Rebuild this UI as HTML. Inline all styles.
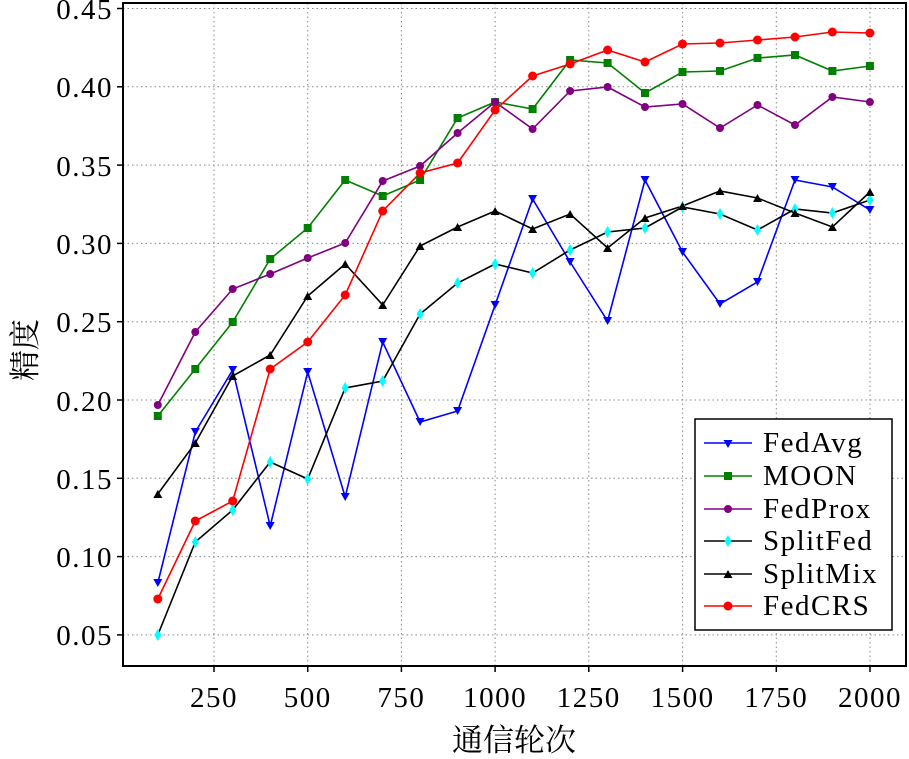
<!DOCTYPE html>
<html><head><meta charset="utf-8"><style>body{margin:0;background:#fff}svg{display:block}</style></head><body>
<svg width="909" height="759" xmlns="http://www.w3.org/2000/svg" font-family="'Liberation Serif','Noto Serif CJK SC',serif">
<defs>
<path id="tri" d="M-4.5,-4 L4.5,-4 L0,4 Z"/>
<path id="utri" d="M-4.5,4 L4.5,4 L0,-4 Z"/>
<path id="dia" d="M0,-6 L3.5,0 L0,6 L-3.5,0 Z"/>
<rect id="sq" x="-4" y="-4" width="8" height="8"/>
<circle id="c" r="4"/>
<circle id="c2" r="4.5"/>
</defs>
<g stroke="#888" stroke-width="1" stroke-dasharray="1.5,3">
<line x1="123" x2="906" y1="8.5" y2="8.5"/><line x1="123" x2="906" y1="86.8" y2="86.8"/><line x1="123" x2="906" y1="165.1" y2="165.1"/><line x1="123" x2="906" y1="243.4" y2="243.4"/><line x1="123" x2="906" y1="321.7" y2="321.7"/><line x1="123" x2="906" y1="400" y2="400"/><line x1="123" x2="906" y1="478.3" y2="478.3"/><line x1="123" x2="906" y1="556.6" y2="556.6"/><line x1="123" x2="906" y1="634.9" y2="634.9"/>
<line y1="3" y2="666" x1="214" x2="214"/><line y1="3" y2="666" x1="307.7" x2="307.7"/><line y1="3" y2="666" x1="401.4" x2="401.4"/><line y1="3" y2="666" x1="495.1" x2="495.1"/><line y1="3" y2="666" x1="588.8" x2="588.8"/><line y1="3" y2="666" x1="682.6" x2="682.6"/><line y1="3" y2="666" x1="776.3" x2="776.3"/><line y1="3" y2="666" x1="870" x2="870"/>
</g>
<rect x="123" y="3" width="783" height="663" fill="none" stroke="#000" stroke-width="2"/>
<g stroke="#000" stroke-width="1.5">
<line x1="117" x2="123" y1="8.5" y2="8.5"/><line x1="117" x2="123" y1="86.8" y2="86.8"/><line x1="117" x2="123" y1="165.1" y2="165.1"/><line x1="117" x2="123" y1="243.4" y2="243.4"/><line x1="117" x2="123" y1="321.7" y2="321.7"/><line x1="117" x2="123" y1="400" y2="400"/><line x1="117" x2="123" y1="478.3" y2="478.3"/><line x1="117" x2="123" y1="556.6" y2="556.6"/><line x1="117" x2="123" y1="634.9" y2="634.9"/>
<line y1="666" y2="672" x1="214" x2="214"/><line y1="666" y2="672" x1="307.7" x2="307.7"/><line y1="666" y2="672" x1="401.4" x2="401.4"/><line y1="666" y2="672" x1="495.1" x2="495.1"/><line y1="666" y2="672" x1="588.8" x2="588.8"/><line y1="666" y2="672" x1="682.6" x2="682.6"/><line y1="666" y2="672" x1="776.3" x2="776.3"/><line y1="666" y2="672" x1="870" x2="870"/>
</g>
<g font-size="29" letter-spacing="1.5" text-anchor="end" fill="#000">
<text x="113" y="19">0.45</text><text x="113" y="97">0.40</text><text x="113" y="176">0.35</text><text x="113" y="254">0.30</text><text x="113" y="332">0.25</text><text x="113" y="411">0.20</text><text x="113" y="489">0.15</text><text x="113" y="567">0.10</text><text x="113" y="645">0.05</text>
</g>
<g font-size="29" letter-spacing="1.5" text-anchor="middle" fill="#000">
<text x="214" y="707">250</text><text x="307.7" y="707">500</text><text x="401.4" y="707">750</text><text x="495.1" y="707">1000</text><text x="588.8" y="707">1250</text><text x="682.6" y="707">1500</text><text x="776.3" y="707">1750</text><text x="870" y="707">2000</text>
</g>
<text x="514" y="751" font-size="31" text-anchor="middle">通信轮次</text>
<text transform="translate(36,350) rotate(-90)" font-size="31" text-anchor="middle">精度</text>

<g fill="none" stroke-width="1.6">
<polyline stroke="#0000ff" points="157.8,583 195.3,432 232.7,370 270.2,526 307.7,372 345.2,497 382.7,342 420.1,422 457.6,411 495.1,305 532.6,199 570.1,262 607.6,321 645,180 682.5,252 720,304 757.5,282 795,180 832.4,187 869.9,210"/>
<polyline stroke="#008000" points="157.8,416 195.3,369 232.7,322 270.2,259 307.7,228 345.2,180 382.7,196 420.1,180 457.6,118 495.1,102 532.6,109 570.1,60 607.6,63 645,93 682.5,72 720,71 757.5,58 795,55 832.4,71 869.9,66"/>
<polyline stroke="#800080" points="157.8,405 195.3,332 232.7,289 270.2,274 307.7,258 345.2,243 382.7,181 420.1,166 457.6,133 495.1,102 532.6,129 570.1,91 607.6,87 645,107 682.5,104 720,128 757.5,105 795,125 832.4,97 869.9,102"/>
<polyline stroke="#000" points="157.8,635 195.3,542 232.7,510 270.2,462 307.7,479 345.2,388 382.7,381 420.1,314 457.6,283 495.1,264 532.6,273 570.1,250 607.6,232 645,228 682.5,207 720,214 757.5,230 795,209 832.4,213 869.9,200"/>
<polyline stroke="#000" points="157.8,494 195.3,443 232.7,376 270.2,355 307.7,296 345.2,264 382.7,305 420.1,246 457.6,227 495.1,211 532.6,229 570.1,214 607.6,248 645,218 682.5,206 720,191 757.5,198 795,213 832.4,227 869.9,192"/>
<polyline stroke="#ff0000" points="157.8,599 195.3,521 232.7,501 270.2,369 307.7,342 345.2,295 382.7,211 420.1,173 457.6,163 495.1,110 532.6,76 570.1,64 607.6,50 645,62 682.5,44 720,43 757.5,40 795,37 832.4,32 869.9,33"/>
</g>
<g fill="#0000ff">
<use href="#tri" x="157.8" y="583"/><use href="#tri" x="195.3" y="432"/><use href="#tri" x="232.7" y="370"/><use href="#tri" x="270.2" y="526"/><use href="#tri" x="307.7" y="372"/><use href="#tri" x="345.2" y="497"/><use href="#tri" x="382.7" y="342"/><use href="#tri" x="420.1" y="422"/><use href="#tri" x="457.6" y="411"/><use href="#tri" x="495.1" y="305"/><use href="#tri" x="532.6" y="199"/><use href="#tri" x="570.1" y="262"/><use href="#tri" x="607.6" y="321"/><use href="#tri" x="645" y="180"/><use href="#tri" x="682.5" y="252"/><use href="#tri" x="720" y="304"/><use href="#tri" x="757.5" y="282"/><use href="#tri" x="795" y="180"/><use href="#tri" x="832.4" y="187"/><use href="#tri" x="869.9" y="210"/>
</g>
<g fill="#008000">
<use href="#sq" x="157.8" y="416"/><use href="#sq" x="195.3" y="369"/><use href="#sq" x="232.7" y="322"/><use href="#sq" x="270.2" y="259"/><use href="#sq" x="307.7" y="228"/><use href="#sq" x="345.2" y="180"/><use href="#sq" x="382.7" y="196"/><use href="#sq" x="420.1" y="180"/><use href="#sq" x="457.6" y="118"/><use href="#sq" x="495.1" y="102"/><use href="#sq" x="532.6" y="109"/><use href="#sq" x="570.1" y="60"/><use href="#sq" x="607.6" y="63"/><use href="#sq" x="645" y="93"/><use href="#sq" x="682.5" y="72"/><use href="#sq" x="720" y="71"/><use href="#sq" x="757.5" y="58"/><use href="#sq" x="795" y="55"/><use href="#sq" x="832.4" y="71"/><use href="#sq" x="869.9" y="66"/>
</g>
<g fill="#800080">
<use href="#c" x="157.8" y="405"/><use href="#c" x="195.3" y="332"/><use href="#c" x="232.7" y="289"/><use href="#c" x="270.2" y="274"/><use href="#c" x="307.7" y="258"/><use href="#c" x="345.2" y="243"/><use href="#c" x="382.7" y="181"/><use href="#c" x="420.1" y="166"/><use href="#c" x="457.6" y="133"/><use href="#c" x="495.1" y="102"/><use href="#c" x="532.6" y="129"/><use href="#c" x="570.1" y="91"/><use href="#c" x="607.6" y="87"/><use href="#c" x="645" y="107"/><use href="#c" x="682.5" y="104"/><use href="#c" x="720" y="128"/><use href="#c" x="757.5" y="105"/><use href="#c" x="795" y="125"/><use href="#c" x="832.4" y="97"/><use href="#c" x="869.9" y="102"/>
</g>
<g fill="#00ffff">
<use href="#dia" x="157.8" y="635"/><use href="#dia" x="195.3" y="542"/><use href="#dia" x="232.7" y="510"/><use href="#dia" x="270.2" y="462"/><use href="#dia" x="307.7" y="479"/><use href="#dia" x="345.2" y="388"/><use href="#dia" x="382.7" y="381"/><use href="#dia" x="420.1" y="314"/><use href="#dia" x="457.6" y="283"/><use href="#dia" x="495.1" y="264"/><use href="#dia" x="532.6" y="273"/><use href="#dia" x="570.1" y="250"/><use href="#dia" x="607.6" y="232"/><use href="#dia" x="645" y="228"/><use href="#dia" x="682.5" y="207"/><use href="#dia" x="720" y="214"/><use href="#dia" x="757.5" y="230"/><use href="#dia" x="795" y="209"/><use href="#dia" x="832.4" y="213"/><use href="#dia" x="869.9" y="200"/>
</g>
<g fill="#000">
<use href="#utri" x="157.8" y="494"/><use href="#utri" x="195.3" y="443"/><use href="#utri" x="232.7" y="376"/><use href="#utri" x="270.2" y="355"/><use href="#utri" x="307.7" y="296"/><use href="#utri" x="345.2" y="264"/><use href="#utri" x="382.7" y="305"/><use href="#utri" x="420.1" y="246"/><use href="#utri" x="457.6" y="227"/><use href="#utri" x="495.1" y="211"/><use href="#utri" x="532.6" y="229"/><use href="#utri" x="570.1" y="214"/><use href="#utri" x="607.6" y="248"/><use href="#utri" x="645" y="218"/><use href="#utri" x="682.5" y="206"/><use href="#utri" x="720" y="191"/><use href="#utri" x="757.5" y="198"/><use href="#utri" x="795" y="213"/><use href="#utri" x="832.4" y="227"/><use href="#utri" x="869.9" y="192"/>
</g>
<g fill="#ff0000">
<use href="#c2" x="157.8" y="599"/><use href="#c2" x="195.3" y="521"/><use href="#c2" x="232.7" y="501"/><use href="#c2" x="270.2" y="369"/><use href="#c2" x="307.7" y="342"/><use href="#c2" x="345.2" y="295"/><use href="#c2" x="382.7" y="211"/><use href="#c2" x="420.1" y="173"/><use href="#c2" x="457.6" y="163"/><use href="#c2" x="495.1" y="110"/><use href="#c2" x="532.6" y="76"/><use href="#c2" x="570.1" y="64"/><use href="#c2" x="607.6" y="50"/><use href="#c2" x="645" y="62"/><use href="#c2" x="682.5" y="44"/><use href="#c2" x="720" y="43"/><use href="#c2" x="757.5" y="40"/><use href="#c2" x="795" y="37"/><use href="#c2" x="832.4" y="32"/><use href="#c2" x="869.9" y="33"/>
</g>

<rect x="695" y="419" width="197" height="211" fill="#fff" stroke="#000" stroke-width="1.5"/>
<g font-size="29" letter-spacing="1.5" fill="#000">
<text x="763" y="452">FedAvg</text><text x="763" y="485">MOON</text><text x="763" y="518">FedProx</text><text x="763" y="550">SplitFed</text><text x="763" y="583">SplitMix</text><text x="763" y="615">FedCRS</text>
</g>
<g stroke-width="1.5">
<line x1="704" x2="752" y1="443" y2="443" stroke="#0000ff"/><use href="#tri" x="728" y="444" fill="#0000ff"/>
<line x1="704" x2="752" y1="476" y2="476" stroke="#008000"/><use href="#sq" x="728" y="476" fill="#008000"/>
<line x1="704" x2="752" y1="509" y2="509" stroke="#800080"/><use href="#c" x="728" y="509" fill="#800080"/>
<line x1="704" x2="752" y1="541" y2="541" stroke="#000"/><use href="#dia" x="728" y="541" fill="#00ffff"/>
<line x1="704" x2="752" y1="574" y2="574" stroke="#000"/><use href="#utri" x="728" y="574" fill="#000"/>
<line x1="704" x2="752" y1="606" y2="606" stroke="#ff0000"/><use href="#c2" x="728" y="606" fill="#ff0000"/>
</g>
</svg>
</body></html>
